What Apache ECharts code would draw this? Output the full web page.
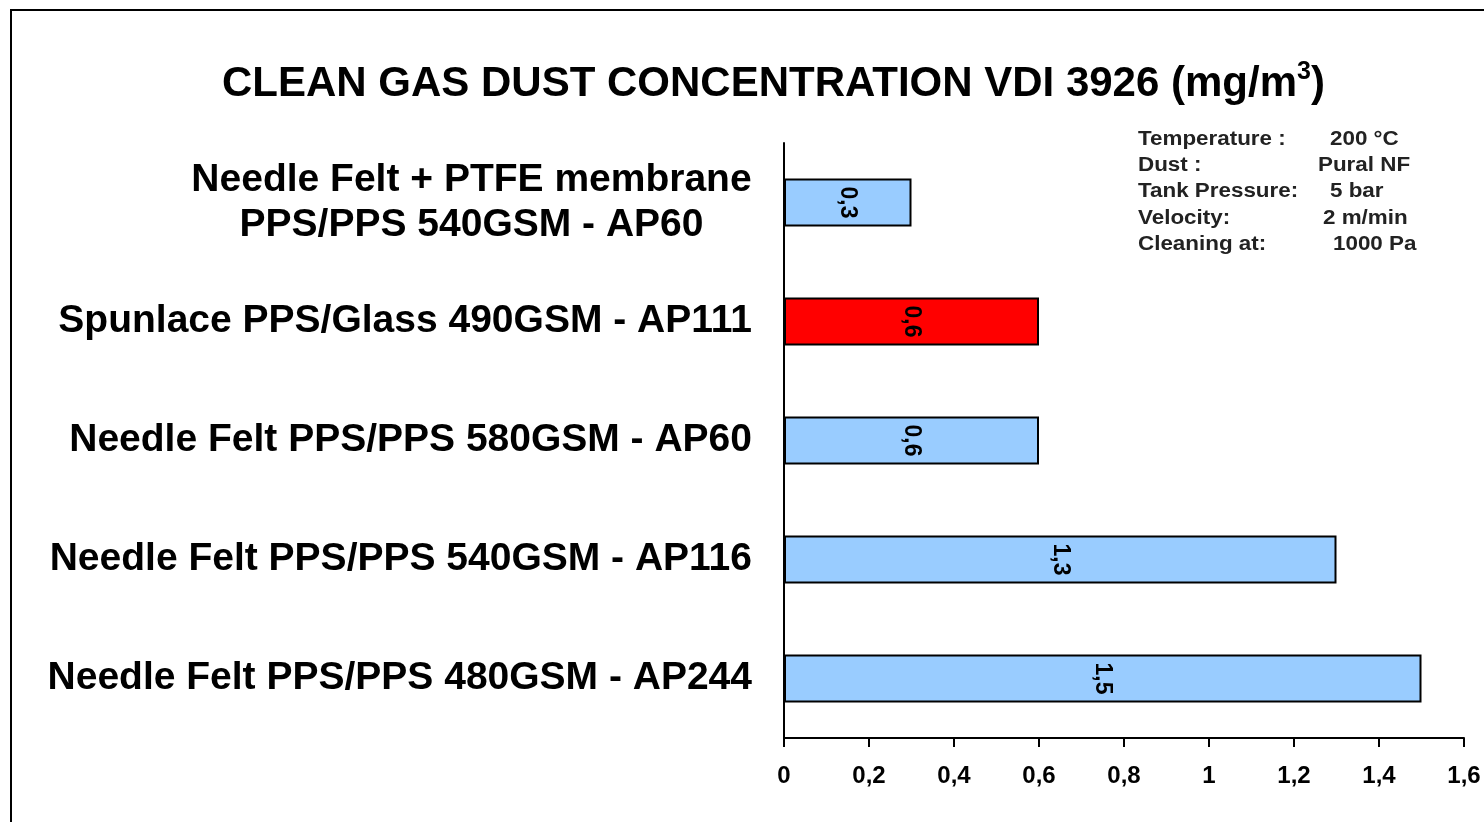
<!DOCTYPE html>
<html>
<head>
<meta charset="utf-8">
<script src="https://cdn.jsdelivr.net/npm/echarts@6/dist/echarts.min.js"></script>
<style>
html,body{margin:0;padding:0;background:#fff;}
#chart{width:1484px;height:822px;}
</style>
</head>
<body>
<div id="chart"></div>
<script>
const categories = [
  "Needle Felt + PTFE membrane\nPPS/PPS 540GSM - AP60",
  "Spunlace PPS/Glass 490GSM - AP111",
  "Needle Felt PPS/PPS 580GSM - AP60",
  "Needle Felt PPS/PPS 540GSM - AP116",
  "Needle Felt PPS/PPS 480GSM - AP244"
];
const values = [0.3, 0.6, 0.6, 1.3, 1.5];
const highlighted = [false, true, false, false, false];
const xTicks = [0, 0.2, 0.4, 0.6, 0.8, 1, 1.2, 1.4, 1.6];
const infoLabels = ["Temperature :", "Dust :", "Tank Pressure:", "Velocity:", "Cleaning at:"];
const infoValues = ["200 °C", "Pural NF", "5 bar", "2 m/min", "1000 Pa"];
const titleText = "CLEAN GAS DUST CONCENTRATION VDI 3926 (mg/m";
const titleSup = "3";

const FONT = '"Liberation Sans", Arial, sans-serif';
const catFontSize = 39;

const cv = document.createElement('canvas').getContext('2d');
cv.font = 'bold ' + catFontSize + 'px ' + FONT;
function w(t){ return Math.ceil(cv.measureText(t).width); }

const chart = echarts.init(document.getElementById('chart'), null, {renderer: 'canvas'});

const infoValueX = [1330, 1318, 1330, 1323, 1333];
const infoGraphics = [];
infoLabels.forEach((t, i) => {
  const y = 139.5 + i * 26.2;
  infoGraphics.push({type: 'text', x: 1138, y: y, scaleX: 1.12, style: {text: t, font: 'bold 20px ' + FONT, fill: '#222', verticalAlign: 'middle'}});
  infoGraphics.push({type: 'text', x: infoValueX[i], y: y, scaleX: 1.12, style: {text: infoValues[i], font: 'bold 20px ' + FONT, fill: '#222', verticalAlign: 'middle'}});
});

const option = {
  backgroundColor: '#fff',
  animation: false,
  title: {
    text: '{t|' + titleText + '}{s|' + titleSup + '}{t|)}',
    left: 217,
    top: 55,
    textStyle: {
      rich: {
        t: {fontFamily: FONT, fontWeight: 'bold', fontSize: 42, color: '#000', lineHeight: 48},
        s: {fontFamily: FONT, fontWeight: 'bold', fontSize: 25, color: '#000', verticalAlign: 'top', padding: [0, 0, 22, 0]}
      }
    }
  },
  grid: {left: 784, right: 20, top: 143, bottom: 84, containLabel: false},
  xAxis: {
    type: 'value',
    min: 0, max: 1.6, interval: 0.2,
    axisLine: {show: true, lineStyle: {color: '#000', width: 2}},
    axisTick: {show: true, length: 9, lineStyle: {color: '#000', width: 2}},
    splitLine: {show: false},
    axisLabel: {
      margin: 26,
      fontFamily: FONT, fontWeight: 'bold', fontSize: 24, color: '#000',
      formatter: v => {
        const m = xTicks.find(t => Math.abs(t - v) < 1e-9);
        return String(m !== undefined ? m : v).replace('.', ',');
      }
    }
  },
  yAxis: {
    type: 'category',
    inverse: true,
    data: categories,
    axisLine: {show: true, lineStyle: {color: '#000', width: 2}},
    axisTick: {show: false},
    axisLabel: {
      margin: 32,
      fontFamily: FONT, fontWeight: 'bold', fontSize: catFontSize, color: '#000',
      lineHeight: 45,
      formatter: v => {
        if (v.indexOf('\n') >= 0) {
          return v.split('\n').map(l => '{c|' + l + '}').join('\n');
        }
        return v;
      },
      rich: {
        c: {fontFamily: FONT, fontWeight: 'bold', fontSize: catFontSize, color: '#000', lineHeight: 45, align: 'center', width: Math.max(w("Needle Felt + PTFE membrane"), w("PPS/PPS 540GSM - AP60"))}
      }
    }
  },
  series: [{
    type: 'bar',
    barWidth: 48,
    data: values.map((v, i) => ({
      value: v,
      itemStyle: {color: highlighted[i] ? '#FF0000' : '#99CCFF', borderColor: '#000', borderWidth: 2}
    })),
    label: {
      show: true,
      position: 'inside',
      rotate: -90,
      fontFamily: FONT, fontWeight: 'bold', fontSize: 23, color: '#000',
      formatter: p => String(p.value).replace('.', ',')
    }
  }],
  graphic: [
    {type: 'rect', shape: {x: 11, y: 10, width: 1600, height: 1000}, style: {fill: 'none', stroke: '#000', lineWidth: 2}, silent: true, z: -10},
    ...infoGraphics
  ]
};
chart.setOption(option);
</script>
</body>
</html>
